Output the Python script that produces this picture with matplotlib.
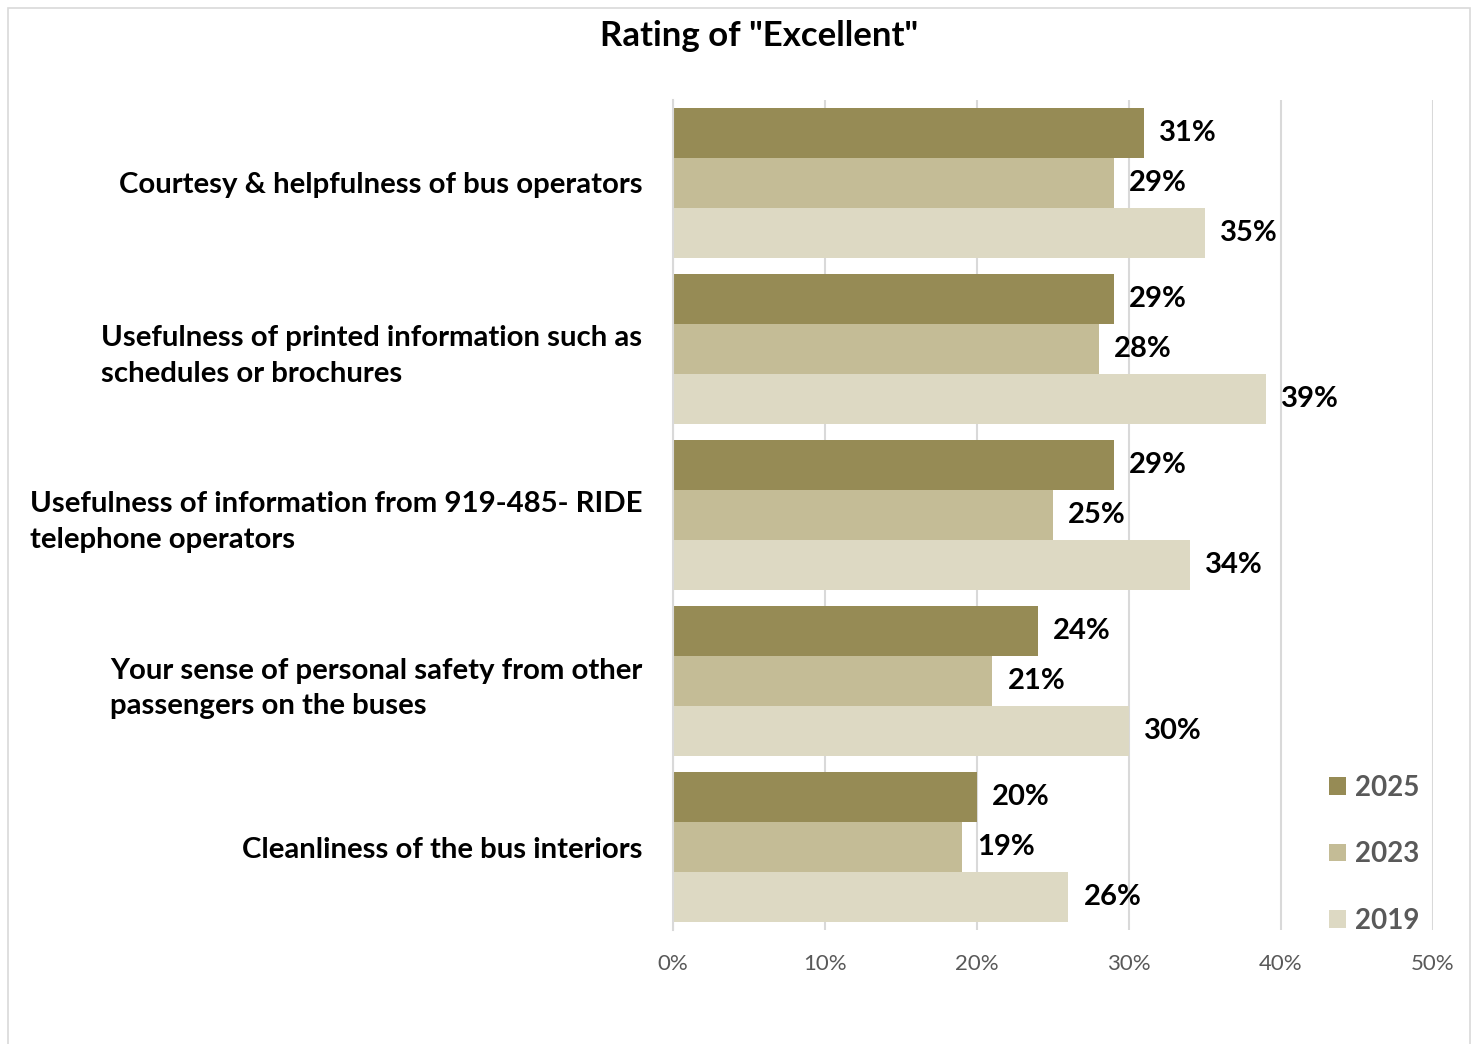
import matplotlib
matplotlib.use("Agg")
import matplotlib.pyplot as plt
from matplotlib.patches import Patch, Rectangle
import numpy as np

plt.rcParams['font.family'] = ['Lato', 'DejaVu Sans']

# Survey items and share of "Excellent" ratings per year
categories = [
    "Courtesy & helpfulness of bus operators",
    "Usefulness of printed information such as\nschedules or brochures",
    "Usefulness of information from 919-485- RIDE\ntelephone operators",
    "Your sense of personal safety from other\npassengers on the buses",
    "Cleanliness of the bus interiors",
]
years = ["2025", "2023", "2019"]
vals_2025 = [31, 29, 29, 24, 20]
vals_2023 = [29, 28, 25, 21, 19]
vals_2019 = [35, 39, 34, 30, 26]
colors = ["#968B55", "#C4BC96", "#DDD9C3"]

W, H = 1478, 1044
fig = plt.figure(figsize=(W / 100, H / 100), dpi=100)

# outer chart border
fig.patches.append(Rectangle((8 / W, -0.01), (1470 - 8) / W, 1 - 8 / H + 0.01,
                             transform=fig.transFigure, fill=False,
                             edgecolor="#D9D9D9", linewidth=1.2))

ax = fig.add_axes([673 / W, 1 - 930 / H, (1433 - 673) / W, (930 - 100) / H])

y = np.arange(len(categories))
h = 0.302
series = [vals_2025, vals_2023, vals_2019]
for i, (vals, yr, c) in enumerate(zip(series, years, colors)):
    bars = ax.barh(y + (i - 1) * h, vals, height=h, color=c, label=yr, zorder=2)
    ax.bar_label(bars, labels=[f"{v}%" for v in vals], padding=11,
                 fontsize=21, fontweight="bold", color="black")

ax.set_xlim(0, 50)
ax.set_ylim(len(categories) - 0.5, -0.5)
ax.set_xticks(range(0, 51, 10))
ax.set_xticklabels([f"{t}%" for t in range(0, 51, 10)], fontsize=16, color="#595959")
ax.set_yticks(y)
ax.set_yticklabels(categories, fontsize=21.2, fontweight="bold", color="black",
                   linespacing=1.47)
for lab in ax.get_yticklabels():
    lab.set_multialignment("left")
ax.tick_params(axis="y", length=0, pad=22)
ax.tick_params(axis="x", length=0, pad=17)
ax.grid(axis="x", color="#D9D9D9", linewidth=1.5, zorder=0)
for s in ["top", "right", "bottom"]:
    ax.spines[s].set_visible(False)
ax.spines["left"].set_color("#D9D9D9")
ax.spines["left"].set_linewidth(1.5)

handles = [Patch(facecolor=c, label=yr) for yr, c in zip(years, colors)]
leg = fig.legend(handles=handles, loc="upper left",
                 bbox_to_anchor=(1304 / W, 1 - 750 / H), frameon=False,
                 fontsize=20, handlelength=0.6, handleheight=0.6,
                 handletextpad=0.35, labelspacing=1.45)
for t in leg.get_texts():
    t.set_fontweight("bold")
    t.set_color("#595959")

fig.text(759 / W, 1 - 36 / H, 'Rating of "Excellent"', ha="center", va="center",
         fontsize=25, fontweight="bold", color="black")

fig.savefig("out.png", dpi=100)
